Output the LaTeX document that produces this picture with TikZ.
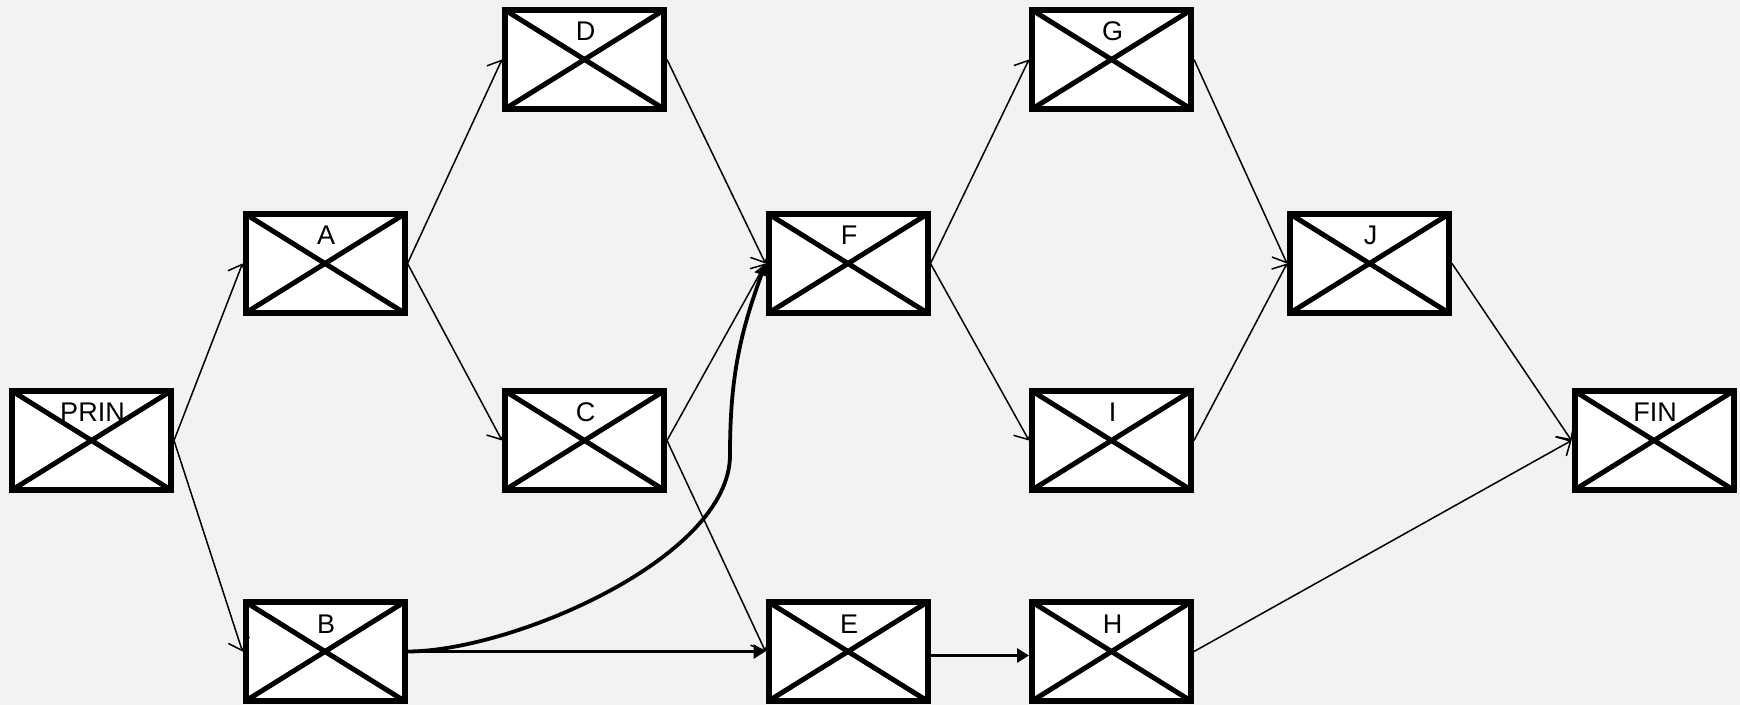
\documentclass[tikz,border=0pt]{standalone}
\usepackage{fontspec}
\usepackage{xcolor}
\usetikzlibrary{arrows.meta}
\setmainfont{Liberation Sans}
\definecolor{paper}{RGB}{242,242,242}
\newcommand{\tasklabel}{\fontsize{13.5}{16}\selectfont}

\tikzset{
  task/.style={
    draw,
    fill=white,
    line width=3pt,
    minimum width=79.5pt,
    minimum height=49.5pt,
    inner sep=0pt,
    path picture={
      \draw[line width=2.5pt]
        (path picture bounding box.north west) -- (path picture bounding box.south east)
        (path picture bounding box.south west) -- (path picture bounding box.north east);
    },
    label={[anchor=base, inner sep=0pt, xshift=0.5pt, yshift=-17pt, font=\tasklabel]north:#1}
  },
  link/.style={line width=0.75pt, -{Straight Barb[length=5.5pt, width=11pt]}},
  boldlink/.style={line width=1.9pt, -{Triangle[length=6pt, width=7pt]}}
}

\begin{document}
\begin{tikzpicture}[x=0.5pt, y=-0.5pt]
\fill[paper] (0,0) rectangle (1740,705);
\useasboundingbox (0,0) rectangle (1740,705);

% tasks
\node[task=PRIN] (prin) at (91.5,440.5) {};
\node[task=A] (a) at (325,263.5) {};
\node[task=B] (b) at (325,651.5) {};
\node[task=D] (d) at (584.5,59.5) {};
\node[task=C] (c) at (584.5,440.5) {};
\node[task=F] (f) at (848,263.5) {};
\node[task=E] (e) at (848,651.5) {};
\node[task=G] (g) at (1111.5,59.5) {};
\node[task=I] (i) at (1111.5,440.5) {};
\node[task=H] (h) at (1111.5,651.5) {};
\node[task=J] (j) at (1369.5,263.5) {};
\node[task=FIN] (fin) at (1654,440.5) {};

\coordinate (bend) at (730,455);

% precedences
\draw[link] (prin.east) -- (a.west);
\draw[link] (prin.east) -- (b.west);
\draw[link] (a.east) -- (d.west);
\draw[link] (a.east) -- (c.west);
\draw[link] (d.east) -- (f.west);
\draw[link] (c.east) -- (f.west);
\draw[link] (c.east) -- (e.west);
\draw[link] (f.east) -- (g.west);
\draw[link] (f.east) -- (i.west);
\draw[link] (g.east) -- (j.west);
\draw[link] (i.east) -- (j.west);
\draw[link] (j.east) -- (fin.west);
\draw[link] (h.east) -- (fin.west);
\draw[boldlink] (b.east) -- (e.west);
\draw[boldlink] ([yshift=-2pt]e.east) -- ([yshift=-2pt]h.west);
\draw[boldlink] (b.east) to[out=0, in=-90, looseness=0.7] (bend)
  to[out=90, in=-110] (f.west);
\end{tikzpicture}
\end{document}
